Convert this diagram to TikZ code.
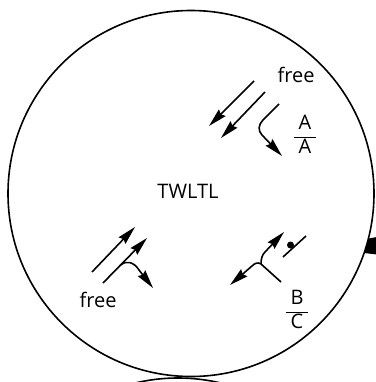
\documentclass[tikz,border=0pt]{standalone}
\usepackage{fontspec}
\setmainfont{Open Sans}
\usetikzlibrary{arrows.meta}
\newcommand{\stackfrac}[2]{{\setlength{\tabcolsep}{3.5pt}\begin{tabular}{c}#1\\\hline #2\end{tabular}}}
\begin{document}
\begin{tikzpicture}[x=0.75pt,y=-0.75pt,
  lw/.style={line width=1.2pt},
  arr/.style={lw,-{Stealth[length=14pt,width=7pt,inset=1.5pt]}},
  lbl/.style={font=\fontsize{15}{17}\selectfont, inner sep=0pt, anchor=base},
  fraclbl/.style={font=\fontsize{15}{17}\selectfont, inner sep=0pt},
  bignode/.style={circle,draw,line width=1.2pt,minimum size=274.5pt,inner sep=0pt}]
\useasboundingbox (0,0) rectangle (375,382);
\node[bignode] (twltl) at (191,193.5) {};
\node[bignode] (other) at (178,561) {};
\node[lbl] (name) at (188,198) {TWLTL};
% upper right group
\node[lbl] (free1) at (296,82) {free};
\node[fraclbl] (aa) at (305,137) {\stackfrac{A}{A}};
\coordinate (u1a) at (254,81);  \coordinate (u1b) at (209,126);
\coordinate (u2a) at (265,92);  \coordinate (u2b) at (221,138);
\coordinate (u3a) at (279,104); \coordinate (u3b) at (282,156);
\draw[arr] (u1a) -- (u1b);
\draw[arr] (u2a) -- (u2b);
\draw[arr] (u3a) -- (263,120) .. controls (258,125) and (258,131) .. (262,135) -- (u3b);
% lower left group
\node[lbl] (free2) at (98,307) {free};
\coordinate (l1a) at (92,272);  \coordinate (l1b) at (135,227);
\coordinate (l2a) at (103,283); \coordinate (l2b) at (147,238);
\coordinate (l3a) at (121,265); \coordinate (l3b) at (153,288);
\draw[arr] (l1a) -- (l1b);
\draw[arr] (l2a) -- (l2b);
\draw[arr] (l3a) .. controls (126,260) and (134,262) .. (139,270) -- (l3b);
% lower right group
\node[fraclbl] (bc) at (297,312) {\stackfrac{B}{C}};
\coordinate (j) at (261,264);
\coordinate (ya) at (284,232); \coordinate (yb) at (230,285); \coordinate (yc) at (281,282);
\draw[arr] (j) .. controls (261,259) and (262,255) .. (265,252) -- (ya);
\draw[arr] (j) .. controls (258,262) and (255,263) .. (252,266) -- (yb);
\draw[lw] (j) -- (yc);
\coordinate (d1) at (283,257); \coordinate (d2) at (306,236);
\draw[lw] (d1) -- (d2);
\fill (290.5,245) circle[radius=3.5];
% external arrow fragment
\fill (368.5,238.5) -- (377,237) -- (377,254.5) -- (364,253) -- cycle;
\end{tikzpicture}
\end{document}
